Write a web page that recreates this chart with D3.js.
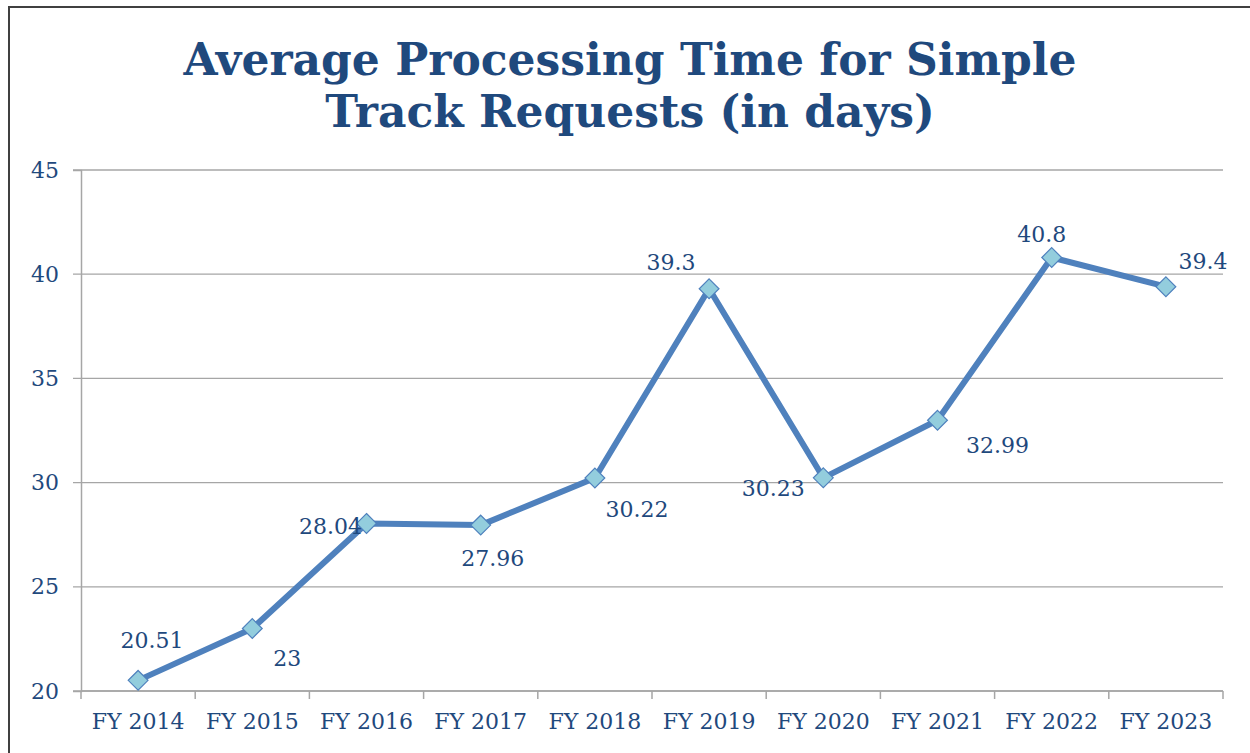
<!DOCTYPE html>
<html>
<head>
<meta charset="utf-8">
<script src="https://cdn.jsdelivr.net/npm/d3@7"></script>
<style>
  body { margin: 0; background: #fff; }
  text { font-family: "DejaVu Serif", Georgia, serif; fill: #1F497D; }
</style>
</head>
<body>
<div id="chart"></div>
<script>
var width = 1250;
var height = 753;

// data
var years = ["FY 2014", "FY 2015", "FY 2016", "FY 2017", "FY 2018",
             "FY 2019", "FY 2020", "FY 2021", "FY 2022", "FY 2023"];
var days = [20.51, 23, 28.04, 27.96, 30.22, 39.3, 30.23, 32.99, 40.8, 39.4];
var labels = ["20.51", "23", "28.04", "27.96", "30.22", "39.3", "30.23", "32.99", "40.8", "39.4"];
var yTicks = [20, 25, 30, 35, 40, 45];

// where each value label sits relative to its point
var labelOffsets = [[14, -38], [35, 32], [-36, 5], [12, 35], [42, 33],
                    [-38, -25], [-50, 12], [60, 27], [-10, -22], [37, -24]];

var svg = d3.select("#chart")
    .append("svg")
    .attr("width", width)
    .attr("height", height);

var margin = ({top: 170, right: 27, bottom: 62, left: 81}),
    iwidth = width - margin.left - margin.right,
    iheight = height - margin.top - margin.bottom;

// outer frame
svg.append("rect")
    .attr("x", 9)
    .attr("y", 7)
    .attr("width", 1260)
    .attr("height", 770)
    .attr("fill", "none")
    .attr("stroke", "#404040")
    .attr("stroke-width", 2);

// title
var title = svg.append("text")
    .attr("text-anchor", "middle")
    .style("font-size", "44px")
    .style("font-weight", "bold");
title.append("tspan").attr("x", 630).attr("y", 75).text("Average Processing Time for Simple");
title.append("tspan").attr("x", 630).attr("y", 127).text("Track Requests (in days)");

var g = svg.append("g")
    .attr("transform", "translate(" + margin.left + "," + margin.top + ")");

var x = d3.scaleBand().domain(years).range([0, iwidth]);
var y = d3.scaleLinear().domain([20, 45]).range([iheight, 0]);

// gridlines
g.append("g")
    .selectAll("line")
    .data(yTicks)
    .join("line")
    .attr("x1", -8)
    .attr("x2", iwidth)
    .attr("y1", function(d) { return y(d); })
    .attr("y2", function(d) { return y(d); })
    .attr("stroke", "#A6A6A6")
    .attr("stroke-width", 1.3);

// y axis
var yAxis = g.append("g")
    .call(d3.axisLeft(y).tickValues(yTicks).tickSize(8).tickPadding(14));
yAxis.select(".domain").attr("stroke", "#A6A6A6").attr("stroke-width", 1.5);
yAxis.selectAll(".tick line").remove();
yAxis.selectAll(".tick text")
    .style("font-size", "22px")
    .attr("fill", "#1F497D")
    .style("font-family", "DejaVu Serif, serif");

// x axis
var xAxis = g.append("g")
    .attr("transform", "translate(0," + iheight + ")")
    .call(d3.axisBottom(x).tickSize(0).tickPadding(22));
xAxis.select(".domain").remove();
xAxis.append("line")
    .attr("x1", 0).attr("x2", iwidth)
    .attr("stroke", "#A6A6A6").attr("stroke-width", 1.5);
xAxis.selectAll(".sep")
    .data(d3.range(years.length + 1))
    .join("line")
    .attr("class", "sep")
    .attr("x1", function(i) { return i * x.step(); })
    .attr("x2", function(i) { return i * x.step(); })
    .attr("y1", 0).attr("y2", 8)
    .attr("stroke", "#A6A6A6").attr("stroke-width", 1.5);
xAxis.selectAll(".tick text")
    .style("font-size", "22px")
    .attr("fill", "#1F497D")
    .style("font-family", "DejaVu Serif, serif");

// line
var cx = function(d, i) { return x(years[i]) + x.bandwidth() / 2; };
var valueline = d3.line()
    .x(cx)
    .y(function(d) { return y(d); });

g.append("path")
    .datum(days)
    .attr("fill", "none")
    .attr("stroke", "#4F81BD")
    .attr("stroke-width", 6)
    .attr("stroke-linejoin", "round")
    .attr("d", valueline);

// markers
g.selectAll(".marker")
    .data(days)
    .join("path")
    .attr("class", "marker")
    .attr("d", d3.symbol().type(d3.symbolDiamond2).size(250))
    .attr("transform", function(d, i) { return "translate(" + cx(d, i) + "," + y(d) + ")"; })
    .attr("fill", "#93CDDD")
    .attr("stroke", "#4F81BD")
    .attr("stroke-width", 1.2);

// value labels
g.selectAll(".vlabel")
    .data(days)
    .join("text")
    .attr("class", "vlabel")
    .attr("x", function(d, i) { return cx(d, i) + labelOffsets[i][0]; })
    .attr("y", function(d, i) { return y(d) + labelOffsets[i][1]; })
    .attr("text-anchor", "middle")
    .attr("dominant-baseline", "middle")
    .style("font-size", "22px")
    .text(function(d, i) { return labels[i]; });
</script>
</body>
</html>
